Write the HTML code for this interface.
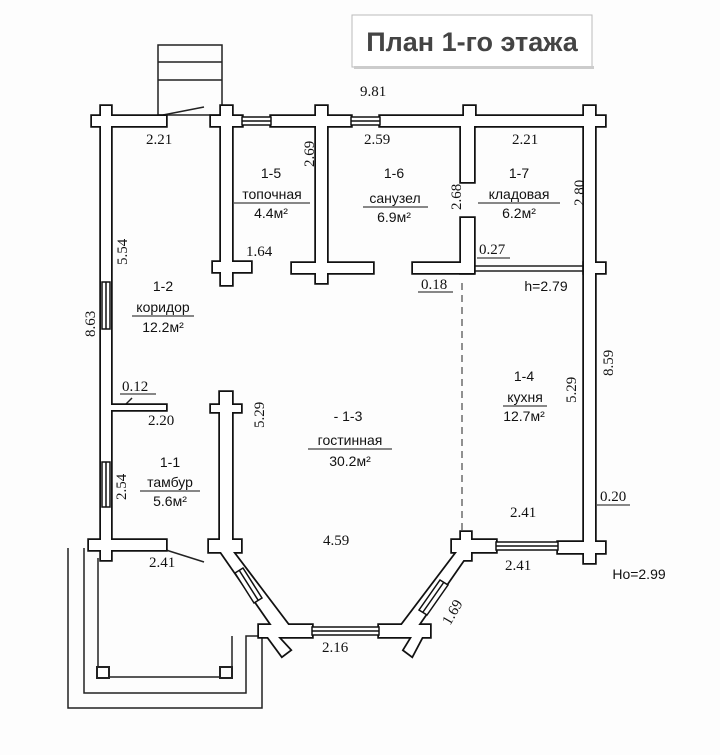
<!DOCTYPE html>
<html><head><meta charset="utf-8"><style>
html,body{margin:0;padding:0;background:#fff;}
svg{display:block;}
.d{font-family:"Liberation Serif",serif;font-size:15px;fill:#111;}
.r{font-family:"Liberation Sans",sans-serif;font-size:14px;fill:#111;text-anchor:middle;}
</style></head><body>
<svg width="720" height="755" viewBox="0 0 720 755" xmlns="http://www.w3.org/2000/svg">
<defs>
<g id="w">
<rect x="92" y="116" width="74" height="10"/>
<rect x="101" y="106" width="10" height="454"/>
<rect x="211" y="116" width="31" height="10"/>
<rect x="221" y="106" width="11" height="179"/>
<rect x="213" y="262" width="38" height="10"/>
<rect x="271" y="116" width="80" height="10"/>
<rect x="316" y="106" width="11" height="177"/>
<rect x="292" y="263" width="81" height="10"/>
<rect x="380" y="116" width="225" height="10"/>
<rect x="464" y="106" width="11" height="20"/>
<rect x="461" y="126" width="13" height="56"/>
<rect x="461" y="218" width="13" height="55"/>
<rect x="413" y="263" width="60" height="10"/>
<rect x="584" y="106" width="11" height="457"/>
<rect x="584" y="263" width="21" height="10"/>
<rect x="109" y="405" width="57" height="5"/>
<rect x="89" y="540" width="77" height="10"/>
<rect x="220" y="392" width="12" height="158"/>
<rect x="211" y="405" width="30" height="7"/>
<rect x="209" y="540" width="32" height="12"/>
<polygon points="221,552 233,552 292,630 280,637"/>
<rect x="259" y="625" width="53" height="12"/>
<polygon points="268,637 278,637 290,650 282,656"/>
<rect x="379" y="625" width="51" height="12"/>
<polygon points="412,637 422,637 412,656 404,650"/>
<polygon points="457,552 469,552 410,637 398,630"/>
<rect x="452" y="540" width="44" height="12"/>
<rect x="461" y="532" width="10" height="28"/>
<rect x="558" y="542" width="47" height="11"/>
</g>
</defs>
<rect width="720" height="755" fill="#fdfdfd"/>
<!-- title -->
<rect x="352" y="15" width="240" height="52" fill="#fff" stroke="#bbb" stroke-width="1"/>
<rect x="354" y="66" width="240" height="3" fill="#ccc"/>
<text x="472" y="51" font-family="Liberation Sans, sans-serif" font-size="27" font-weight="bold" fill="#444" text-anchor="middle">План 1-го этажа</text>

<g fill="none" stroke="#222" stroke-width="1.5">
<rect x="158" y="45" width="64" height="70"/>
<line x1="158" y1="62" x2="222" y2="62"/>
<line x1="158" y1="80" x2="222" y2="80"/>
<line x1="163" y1="115" x2="204" y2="107"/>
<polyline points="68,548 68,708 262,708 262,636"/>
<polyline points="84,548 84,693 246,693 246,636 262,636"/>
<line x1="98" y1="558" x2="98" y2="667"/>
<line x1="109" y1="677" x2="220" y2="677"/>
<line x1="232" y1="636" x2="232" y2="667"/>
<rect x="97" y="667" width="12" height="11" stroke-width="2"/>
<rect x="220" y="667" width="12" height="11" stroke-width="2"/>
<line x1="166" y1="550" x2="204" y2="562"/>
<line x1="474" y1="266" x2="585" y2="266"/>
<line x1="474" y1="271" x2="585" y2="271"/>
<line x1="462" y1="283" x2="462" y2="532" stroke-dasharray="7,5" stroke-width="1"/>
<line x1="120" y1="410" x2="132" y2="398"/>
</g>

<g stroke="#111" stroke-width="3.5" fill="#fff"><use href="#w"/></g>
<g stroke="none" fill="#fff"><use href="#w"/></g>

<g fill="#fff" stroke="#111" stroke-width="1.5">
<rect x="242" y="117" width="29" height="8"/><line x1="242" y1="121" x2="271" y2="121"/>
<rect x="351" y="117" width="29" height="8"/><line x1="351" y1="121" x2="380" y2="121"/>
<rect x="102" y="282" width="8" height="47"/><line x1="106" y1="282" x2="106" y2="329"/>
<rect x="102" y="462" width="8" height="45"/><line x1="106" y1="462" x2="106" y2="507"/>
<rect x="312" y="627" width="67" height="8"/><line x1="312" y1="631" x2="379" y2="631"/>
<rect x="496" y="542" width="62" height="8"/><line x1="496" y1="546" x2="558" y2="546"/>
<polygon points="235,573 243,568 262,598 254,603"/><line x1="239" y1="570" x2="258" y2="600"/>
<polygon points="440,580 448,585 427,615 419,610"/><line x1="444" y1="582" x2="423" y2="612"/>
</g>

<g class="d">
<text x="360" y="96">9.81</text>
<text x="146" y="144">2.21</text>
<text x="364" y="144">2.59</text>
<text x="512" y="144">2.21</text>
<text x="246" y="256">1.64</text>
<text x="479" y="254">0.27</text>
<text x="421" y="289">0.18</text>
<text x="122" y="391">0.12</text>
<text x="148" y="425">2.20</text>
<text x="600" y="501">0.20</text>
<text x="510" y="517">2.41</text>
<text x="323" y="545">4.59</text>
<text x="149" y="567">2.41</text>
<text x="505" y="570">2.41</text>
<text x="322" y="652">2.16</text>
<text transform="translate(314,167) rotate(-90)">2.69</text>
<text transform="translate(461,210) rotate(-90)">2.68</text>
<text transform="translate(584,206) rotate(-90)">2.80</text>
<text transform="translate(127,265) rotate(-90)">5.54</text>
<text transform="translate(95,337) rotate(-90)">8.63</text>
<text transform="translate(576,403) rotate(-90)">5.29</text>
<text transform="translate(613,376) rotate(-90)">8.59</text>
<text transform="translate(264,428) rotate(-90)">5.29</text>
<text transform="translate(126,500) rotate(-90)">2.54</text>
<text transform="translate(450,626) rotate(-60)">1.69</text>
</g>
<g stroke="#111" stroke-width="1">
<line x1="477" y1="258" x2="510" y2="258"/>
<line x1="418" y1="292" x2="453" y2="292"/>
<line x1="120" y1="394" x2="156" y2="394"/>
<line x1="597" y1="505" x2="630" y2="505"/>
</g>
<g class="r">
<text x="271" y="178">1-5</text><text x="272" y="199">топочная</text><text x="271" y="218">4.4м²</text>
<text x="394" y="178">1-6</text><text x="395" y="203">санузел</text><text x="394" y="222">6.9м²</text>
<text x="519" y="178">1-7</text><text x="519" y="199">кладовая</text><text x="519" y="218">6.2м²</text>
<text x="546" y="291">h=2.79</text>
<text x="163" y="291">1-2</text><text x="163" y="312">коридор</text><text x="163" y="332">12.2м²</text>
<text x="524" y="381">1-4</text><text x="525" y="402">кухня</text><text x="524" y="421">12.7м²</text>
<text x="348" y="421">- 1-3</text><text x="350" y="445">гостинная</text><text x="350" y="466">30.2м²</text>
<text x="170" y="467">1-1</text><text x="170" y="487">тамбур</text><text x="170" y="506">5.6м²</text>
<text x="639" y="579">Ho=2.99</text>
</g>
<g stroke="#111" stroke-width="1">
<line x1="234" y1="203" x2="310" y2="203"/>
<line x1="363" y1="207" x2="428" y2="207"/>
<line x1="478" y1="203" x2="560" y2="203"/>
<line x1="132" y1="316" x2="194" y2="316"/>
<line x1="503" y1="406" x2="547" y2="406"/>
<line x1="308" y1="449" x2="392" y2="449"/>
<line x1="140" y1="491" x2="200" y2="491"/>
</g>
</svg>
</body></html>
